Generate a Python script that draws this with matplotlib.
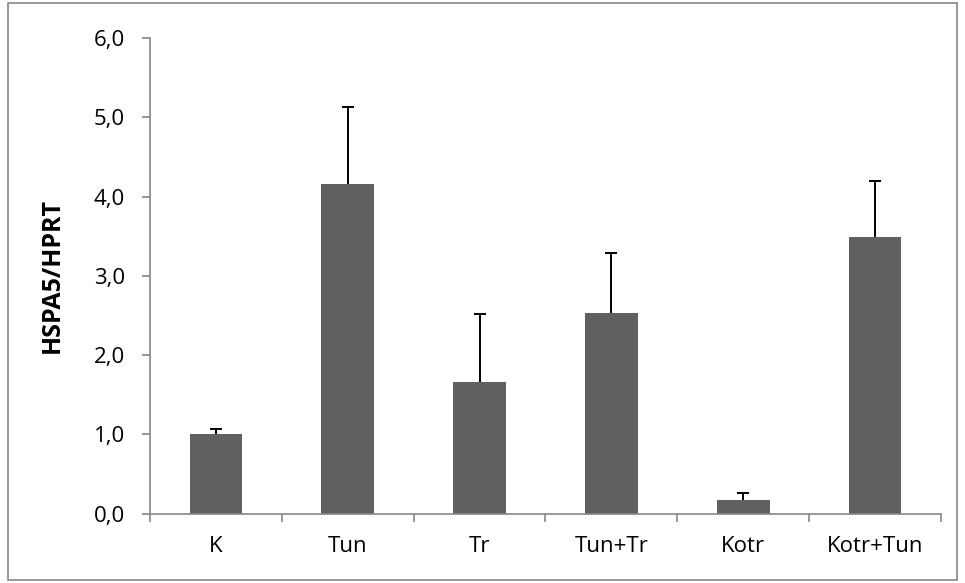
import matplotlib.pyplot as plt
from matplotlib.patches import Rectangle
from matplotlib.ticker import FuncFormatter

categories = ['K', 'Tun', 'Tr', 'Tun+Tr', 'Kotr', 'Kotr+Tun']
values = [1.00, 4.16, 1.66, 2.53, 0.17, 3.49]
errors = [0.07, 0.97, 0.86, 0.76, 0.09, 0.71]

plt.rcParams['font.family'] = ['Open Sans', 'DejaVu Sans']

fig = plt.figure(figsize=(9.65, 5.83), dpi=100)
ax = fig.add_axes([0.1554, 0.1192, 0.975 - 0.1554, 0.9348 - 0.1192])

x = list(range(len(categories)))
ax.bar(x, values, width=0.4, color='#606060', zorder=2)
eb = ax.errorbar(x, values, yerr=[[0] * len(errors), errors], fmt='none',
                 ecolor='black', elinewidth=1.4, capsize=4.3, capthick=1.4, zorder=3)
# only the upper cap is shown
eb[1][0].set_visible(False)

ax.set_xlim(-0.5, len(categories) - 0.5)
ax.set_ylim(0, 6)
ax.set_yticks([0, 1, 2, 3, 4, 5, 6])
ax.yaxis.set_major_formatter(FuncFormatter(lambda v, p: f'{v:.1f}'.replace('.', ',')))

ax.set_xticks([i - 0.5 for i in range(len(categories) + 1)], minor=False)
ax.set_xticklabels([])
ax.set_xticks(x, minor=True)
ax.set_xticklabels(categories, minor=True)
ax.tick_params(axis='x', which='minor', length=0, pad=16, labelsize=16)
ax.tick_params(axis='x', which='major', length=6, width=1.2, color='#868686')
ax.tick_params(axis='y', length=6, width=1.2, color='#868686', labelsize=16, pad=12)

for s in ['top', 'right']:
    ax.spines[s].set_visible(False)
for s in ['left', 'bottom']:
    ax.spines[s].set_color('#868686')
    ax.spines[s].set_linewidth(1.2)

ax.set_ylabel('HSPA5/HPRT', fontsize=18, fontweight='bold', labelpad=21)

fig.patches.append(Rectangle((8 / 965, 3 / 583), (957 - 8) / 965, (580 - 3) / 583,
                             transform=fig.transFigure, fill=False,
                             edgecolor='#868686', linewidth=1.2))

fig.savefig('out.png', dpi=100)
